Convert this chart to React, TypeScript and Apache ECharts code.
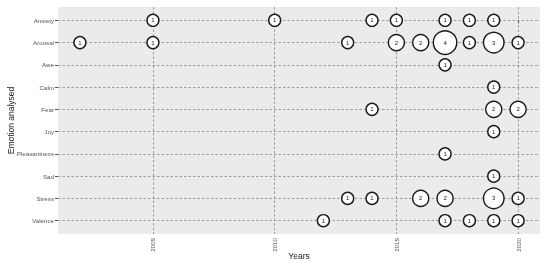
import React, { useEffect, useRef } from "react";
import * as echarts from "echarts";

const emotions = ["Anxiety", "Arousal", "Awe", "Calm", "Fear", "Joy", "Pleasantness", "Sad", "Stress", "Valence"];
const yearTicks = [2005, 2010, 2015, 2020];

// Each point: year, emotion, number of studies
const pointYears = [
  2005, 2010, 2014, 2015, 2017, 2018, 2019,
  2002, 2005, 2013, 2015, 2016, 2017, 2018, 2019, 2020,
  2017,
  2019,
  2014, 2019, 2020,
  2019,
  2017,
  2019,
  2013, 2014, 2016, 2017, 2019, 2020,
  2012, 2017, 2018, 2019, 2020,
];
const pointEmotions = [
  "Anxiety", "Anxiety", "Anxiety", "Anxiety", "Anxiety", "Anxiety", "Anxiety",
  "Arousal", "Arousal", "Arousal", "Arousal", "Arousal", "Arousal", "Arousal", "Arousal", "Arousal",
  "Awe",
  "Calm",
  "Fear", "Fear", "Fear",
  "Joy",
  "Pleasantness",
  "Sad",
  "Stress", "Stress", "Stress", "Stress", "Stress", "Stress",
  "Valence", "Valence", "Valence", "Valence", "Valence",
];
const pointCounts = [
  1, 1, 1, 1, 1, 1, 1,
  1, 1, 1, 2, 2, 4, 1, 3, 1,
  1,
  1,
  1, 2, 2,
  1,
  1,
  1,
  1, 1, 2, 2, 3, 1,
  1, 1, 1, 1, 1,
];

const sizeByCount: Record<number, number> = { 1: 12, 2: 16, 3: 20.5, 4: 23.5 };

export default function App() {
  const ref = useRef<HTMLDivElement>(null);
  useEffect(() => {
    if (!ref.current) return;
    const chart = echarts.init(ref.current, null, { renderer: "svg" });
    const data = pointYears.map((y, i) => [y, emotions.indexOf(pointEmotions[i]), pointCounts[i]]);
    const gridLine = { show: true, lineStyle: { color: "#8a8a8a", width: 0.8, type: [2.5, 2] as any } };
    chart.setOption({
      animation: false,
      textStyle: { fontFamily: "Liberation Sans, Arial, sans-serif" },
      grid: {
        left: 58, right: 10, top: 7, bottom: 32,
        outerBoundsMode: "none",
        containLabel: false,
        show: true, backgroundColor: "#EBEBEB", borderWidth: 0,
      },
      xAxis: {
        type: "value",
        min: 2001.1,
        max: 2020.9,
        name: "Years",
        nameLocation: "middle",
        nameGap: 17,
        nameMoveOverlap: false,
        nameTextStyle: { fontSize: 8.5, color: "#222", verticalAlign: "top" },
        axisLine: { show: false },
        axisTick: { show: true, length: 3, lineStyle: { color: "#555" }, customValues: yearTicks },
        axisLabel: {
          customValues: yearTicks,
          rotate: 90,
          fontSize: 6.2,
          color: "#555",
          margin: 4,
          formatter: (v: number) => String(Math.round(v)),
        },
        splitLine: gridLine,
      },
      yAxis: {
        type: "value",
        inverse: true,
        min: -0.6,
        max: 9.6,
        name: "Emotion analysed",
        nameLocation: "middle",
        nameGap: 43,
        nameRotate: 90,
        nameMoveOverlap: false,
        nameTextStyle: { fontSize: 8.5, color: "#222" },
        axisLine: { show: false },
        axisTick: { show: true, length: 3, lineStyle: { color: "#555" }, customValues: emotions.map((_, i) => i) },
        axisLabel: {
          customValues: emotions.map((_, i) => i),
          fontSize: 6.2,
          color: "#555",
          margin: 4,
          formatter: (v: number) => emotions[Math.round(v)] ?? "",
        },
        splitLine: gridLine,
      },
      series: [
        {
          type: "scatter",
          data,
          symbol: "circle",
          symbolSize: (v: number[]) => sizeByCount[v[2]] ?? 12,
          itemStyle: { color: "#ffffff", borderColor: "#1a1a1a", borderWidth: 1.4, opacity: 1 },
          label: {
            show: true,
            position: "inside",
            formatter: (p: any) => String(p.value[2]),
            fontSize: 6,
            color: "#222",
          },
        },
      ],
    });
    return () => chart.dispose();
  }, []);
  return <div ref={ref} style={{ position: "fixed", left: 0, top: 0, width: 550, height: 266 }} />;
}
